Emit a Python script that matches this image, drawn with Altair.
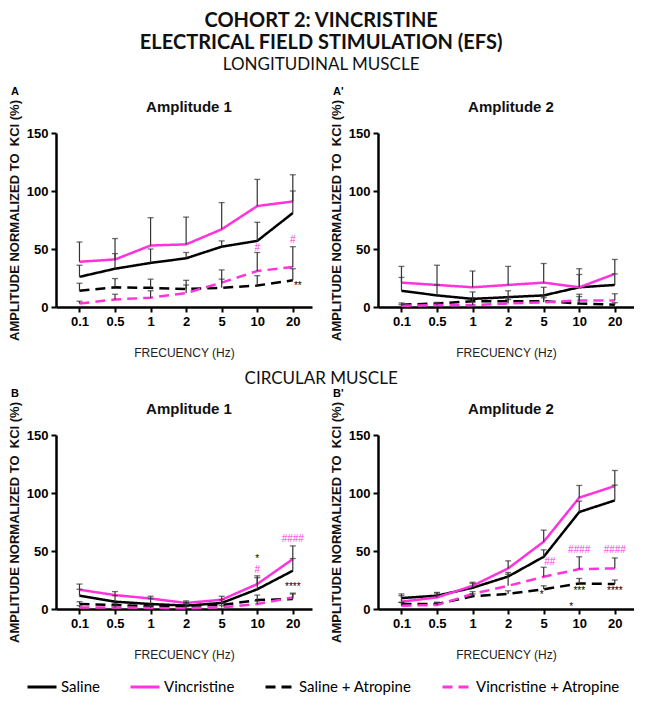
import altair as alt
import pandas as pd

FREQS = ["0.1", "0.5", "1", "2", "5", "10", "20"]
SERIES = ["Saline", "Vincristine", "Saline + Atropine", "Vincristine + Atropine"]
MAGENTA = "#FF33DD"

# ---- Longitudinal muscle, Amplitude 1 (A): mean and mean+SEM ----
A_sal = [26, 33, 38, 42, 52, 57, 81]
A_sal_up = [36, 46, 50, 47, 57, 73, 100]
A_vin = [39, 41, 53, 54, 67, 87, 91]
A_vin_up = [56, 59, 77, 77.5, 90, 110, 114]
A_sa = [14, 17, 16.5, 15.5, 16.5, 18.5, 23]
A_sa_up = [20.5, 24.5, 24, 23, 24, 27, 33]
A_va = [3, 6.5, 8, 12, 21, 31, 34.5]
A_va_up = [5, 11, 14, 19, 32, 47, 52]

# ---- Longitudinal muscle, Amplitude 2 (A') ----
A2_sal = [14, 10, 7, 8.5, 10, 17, 19]
A2_sal_up = [25.5, 19, 13, 14, 17, 28, 28.5]
A2_vin = [21, 19, 17, 19, 21, 17, 28.5]
A2_vin_up = [35, 36, 31, 35, 37.5, 33, 41]
A2_sa = [2, 3, 5, 5, 5, 3, 2]
A2_sa_up = [3.5, 4, 8, 8.5, 9.5, 11, 3.7]
A2_va = [1, 1.7, 1.7, 3, 4, 5.7, 5.7]
A2_va_up = [2, 3.4, 4.5, 6.5, 8, 9, 11.4]

# ---- Circular muscle, Amplitude 1 (B) ----
B_sal = [11.5, 6.3, 4.3, 2.9, 5.2, 17, 33]
B_sal_up = [17, 11.5, 9, 5.7, 8, 27, 43.5]
B_vin = [16.6, 12, 9, 5.2, 8, 21.5, 43]
B_vin_up = [21.5, 15, 11, 7, 11, 28.6, 54.4]
B_sa = [4.3, 3.4, 2.3, 2.9, 3.4, 7.7, 8.6]
B_sa_up = [6.3, 5, 3.4, 5, 5.7, 12, 12.9]
B_va = [1.4, 1.4, 0.9, 0.6, 1.4, 4.3, 10]
B_va_up = [2.9, 2.9, 2.3, 2, 2.9, 7, 13.7]

# ---- Circular muscle, Amplitude 2 (B') ----
B2_sal = [9.4, 11.5, 18.3, 28, 45, 83.6, 93.6]
B2_sal_up = [13, 14.3, 22, 31.5, 51, 93, 106.8]
B2_vin = [6.3, 10, 20, 35, 58, 96, 106]
B2_vin_up = [11.5, 13.7, 23, 41.5, 68, 106.5, 119.4]
B2_sa = [4.3, 4.3, 11, 13, 17, 22, 21.5]
B2_sa_up = [5.7, 5.7, 13, 15.7, 20, 26.3, 25]
B2_va = [2.9, 3.4, 13, 20, 27.8, 34.4, 35]
B2_va_up = [5.7, 5.7, 15, 30, 36, 45, 44]

# ---- significance marks ----
ANN_PANEL = ["A", "A", "A", "B", "B", "B", "B", "B'", "B'", "B'", "B'", "B'", "B'", "B'"]
ANN_FREQ = ["10", "20", "20", "10", "10", "20", "20", "5", "10", "20", "10", "20", "5", "10"]
ANN_Y = [51, 58, 18, 43, 33.5, 60.7, 19, 40.6, 50.7, 50.7, 15.5, 15.5, 12, 1.5]
ANN_TEXT = ["#", "#", "**", "*", "#", "####", "****", "##", "####", "####", "***", "****", "*", "*"]
ANN_GROUP = ["v", "v", "s", "s", "v", "v", "s", "v", "v", "v", "s", "s", "s", "s"]
ANN_DX = [0, 0, 5, 0, 0, 0, 0, 6, 0, 0, 0, 0, -2, -8]

rows = []
def add(panel, series, means, ups):
    for f, m, u in zip(FREQS, means, ups):
        rows.append(dict(panel=panel, freq=f, series=series, mean=m, upper=u))

for pid, arrs in [
    ("A", [(A_sal, A_sal_up), (A_vin, A_vin_up), (A_sa, A_sa_up), (A_va, A_va_up)]),
    ("A'", [(A2_sal, A2_sal_up), (A2_vin, A2_vin_up), (A2_sa, A2_sa_up), (A2_va, A2_va_up)]),
    ("B", [(B_sal, B_sal_up), (B_vin, B_vin_up), (B_sa, B_sa_up), (B_va, B_va_up)]),
    ("B'", [(B2_sal, B2_sal_up), (B2_vin, B2_vin_up), (B2_sa, B2_sa_up), (B2_va, B2_va_up)]),
]:
    for s, (m, u) in zip(SERIES, arrs):
        add(pid, s, m, u)

df = pd.DataFrame(rows)
ann = pd.DataFrame(dict(panel=ANN_PANEL, freq=ANN_FREQ, y=ANN_Y, text=ANN_TEXT,
                        group=ANN_GROUP, dx=ANN_DX))

AX_FONT = "Liberation Sans"
W, H = 256, 174

x_enc = alt.X("freq:O", sort=FREQS,
              scale=alt.Scale(type="point", padding=0.6, align=0.55),
              axis=alt.Axis(title="FRECUENCY (Hz)", labelAngle=0, titlePadding=19,
                            titleFontWeight="normal", titleFontSize=12,
                            titleFont=AX_FONT, titleColor="#222"))
y_scale = alt.Scale(domain=[0, 150], nice=False)
y_axis = alt.Axis(values=[0, 50, 100, 150],
                  title="AMPLITUDE NORMALIZED TO\u00a0 KCl (%)",
                  titleFontSize=13, titleFontWeight="bold", titleFont=AX_FONT,
                  titleColor="#111", titlePadding=5)

LEGEND = alt.Legend(title=None, orient="none", legendX=-30, legendY=H + 62,
                    direction="horizontal", columns=4,
                    symbolType="stroke", symbolSize=841,
                    symbolStrokeWidth=3, labelFont="Lato",
                    labelFontSize=15, labelColor="black",
                    columnPadding=24, labelOffset=3)


def panel(pid, title, letter, show_legend=False):
    color_enc = alt.Color("series:N", sort=SERIES,
                          scale=alt.Scale(domain=SERIES,
                                          range=["black", MAGENTA, "black", MAGENTA]),
                          legend=LEGEND if show_legend else None)
    dash_enc = alt.StrokeDash("series:N", sort=SERIES,
                              scale=alt.Scale(domain=SERIES,
                                              range=[[1, 0], [1, 0], [10, 6], [10, 6]]),
                              legend=LEGEND if show_legend else None)
    base = alt.Chart(df).transform_filter(alt.datum.panel == pid)
    lines = base.mark_line(strokeWidth=2.5).encode(
        x=x_enc, y=alt.Y("mean:Q", scale=y_scale, axis=y_axis),
        color=color_enc, strokeDash=dash_enc)
    err = base.mark_rule(color="#333", strokeWidth=1.2).encode(
        x=alt.X("freq:O", sort=FREQS), y="upper:Q", y2="mean:Q")
    caps = base.mark_tick(color="#333", thickness=1.3, size=6).encode(
        x=alt.X("freq:O", sort=FREQS), y="upper:Q")
    layers = [lines, err, caps]
    sub = ann[ann.panel == pid]
    for (g, dx) in sorted(set(zip(sub.group, sub.dx))):
        layers.append(
            alt.Chart(ann).transform_filter(
                (alt.datum.panel == pid) & (alt.datum.group == g) & (alt.datum.dx == dx)
            ).mark_text(fontSize=10, font=AX_FONT, dx=dx, baseline="middle",
                        color=(MAGENTA if g == "v" else "black")).encode(
                x=alt.X("freq:O", sort=FREQS), y="y:Q", text="text:N"))
    labels = pd.DataFrame({"t": [letter], "ttl": [title]})
    layers.append(
        alt.Chart(labels).mark_text(
            align="left", baseline="middle", font=AX_FONT, fontWeight="bold",
            fontSize=11, color="black").encode(
            x=alt.value(-45), y=alt.value(-41), text="t:N"))
    layers.append(
        alt.Chart(labels).mark_text(
            align="center", baseline="middle", font=AX_FONT, fontWeight="bold",
            fontSize=15, color="#111").encode(
            x=alt.value(W / 2 + 5), y=alt.value(-26), text="ttl:N"))
    return alt.layer(*layers).properties(width=W, height=H)


TITLE_FONT = "Lato"
top = alt.hconcat(panel("A", "Amplitude 1", "A"), panel("A'", "Amplitude 2", "A'"),
                  spacing=18).properties(
    title=alt.TitleParams("LONGITUDINAL MUSCLE", anchor="middle", font=TITLE_FONT,
                          fontSize=17, fontWeight="normal", color="#111", offset=12))
bottom = alt.hconcat(panel("B", "Amplitude 1", "B", show_legend=True),
                     panel("B'", "Amplitude 2", "B'"),
                     spacing=18).properties(
    title=alt.TitleParams("CIRCULAR MUSCLE", anchor="middle", font=TITLE_FONT,
                          fontSize=17, fontWeight="normal", color="#111", offset=0))

chart = alt.vconcat(top, bottom, spacing=12).properties(
    padding={"top": 3, "left": 0, "right": 0, "bottom": 0},
    title=alt.TitleParams("COHORT 2: VINCRISTINE",
                          subtitle="ELECTRICAL FIELD STIMULATION (EFS)",
                          anchor="middle", font=TITLE_FONT, fontSize=20, fontWeight="bold",
                          subtitleFont=TITLE_FONT, subtitleFontSize=20,
                          subtitleFontWeight="bold", subtitleColor="#111",
                          subtitlePadding=2, color="#111", offset=3)
).resolve_scale(color="independent", strokeDash="independent").resolve_legend(
    color="independent", strokeDash="independent"
).configure_view(stroke=None).configure_axis(
    grid=False, domainColor="black", domainWidth=2.5, tickColor="black", tickWidth=2,
    tickSize=5, labelFont=AX_FONT, labelFontWeight="bold", labelFontSize=13,
    labelColor="black", labelPadding=3
)

chart.save("out.html", embed_options={"renderer": "svg", "actions": False})
